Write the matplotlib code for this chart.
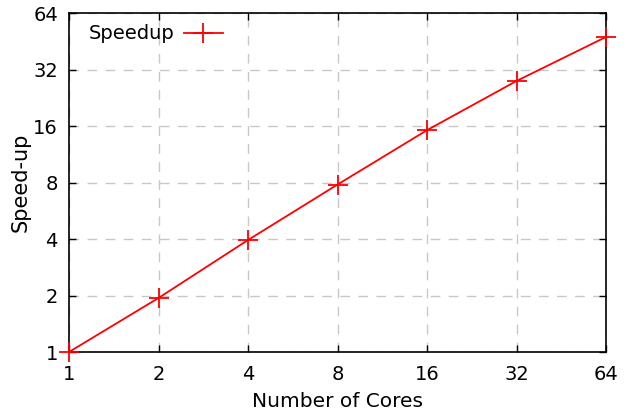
import matplotlib
matplotlib.use("Agg")
import matplotlib.pyplot as plt
from matplotlib.ticker import FixedLocator, FixedFormatter, NullLocator

cores = [1, 2, 4, 8, 16, 32, 64]
speedup = [1.0, 1.94, 3.95, 7.8, 15.2, 27.8, 47.7]
ytick_vals = [1, 2, 4, 8, 16, 32, 64]

plt.rcParams['font.family'] = ['DejaVu Sans']
plt.rcParams['font.size'] = 14

fig = plt.figure(figsize=(6.32, 4.11), dpi=100)
ax = fig.add_axes([69 / 632, 59 / 411, 537 / 632, 339 / 411])

ax.plot(cores, speedup, color='red', lw=1.3, marker='+', markersize=14,
        markeredgewidth=1.3, label='Speedup', clip_on=False, zorder=3)

ax.set_xscale('log', base=2)
ax.set_yscale('log', base=2)
ax.set_xlim(1, 64)
ax.set_ylim(1, 64)

ax.xaxis.set_major_locator(FixedLocator(cores))
ax.xaxis.set_major_formatter(FixedFormatter([str(c) for c in cores]))
ax.yaxis.set_major_locator(FixedLocator(ytick_vals))
ax.yaxis.set_major_formatter(FixedFormatter([str(v) for v in ytick_vals]))
ax.xaxis.set_minor_locator(NullLocator())
ax.yaxis.set_minor_locator(NullLocator())

ax.tick_params(direction='in', length=5, width=1, top=True, right=True,
               colors='black')
ax.tick_params(axis='x', pad=9)
ax.tick_params(axis='y', pad=8)
ax.grid(True, color='#c8c8c8', linestyle=(0, (7, 6)), linewidth=1)
for s in ax.spines.values():
    s.set_linewidth(1.2)

ax.set_xlabel('Number of Cores', fontsize=14.5, labelpad=6)
ax.set_ylabel('Speed-up', fontsize=15, labelpad=2)

ax.legend(loc='upper left', bbox_to_anchor=(0.0, 1.024), frameon=False,
          markerfirst=False, fontsize=14, handlelength=2.0,
          borderaxespad=0.6, handletextpad=0.5)

fig.savefig('out.png', dpi=100)
